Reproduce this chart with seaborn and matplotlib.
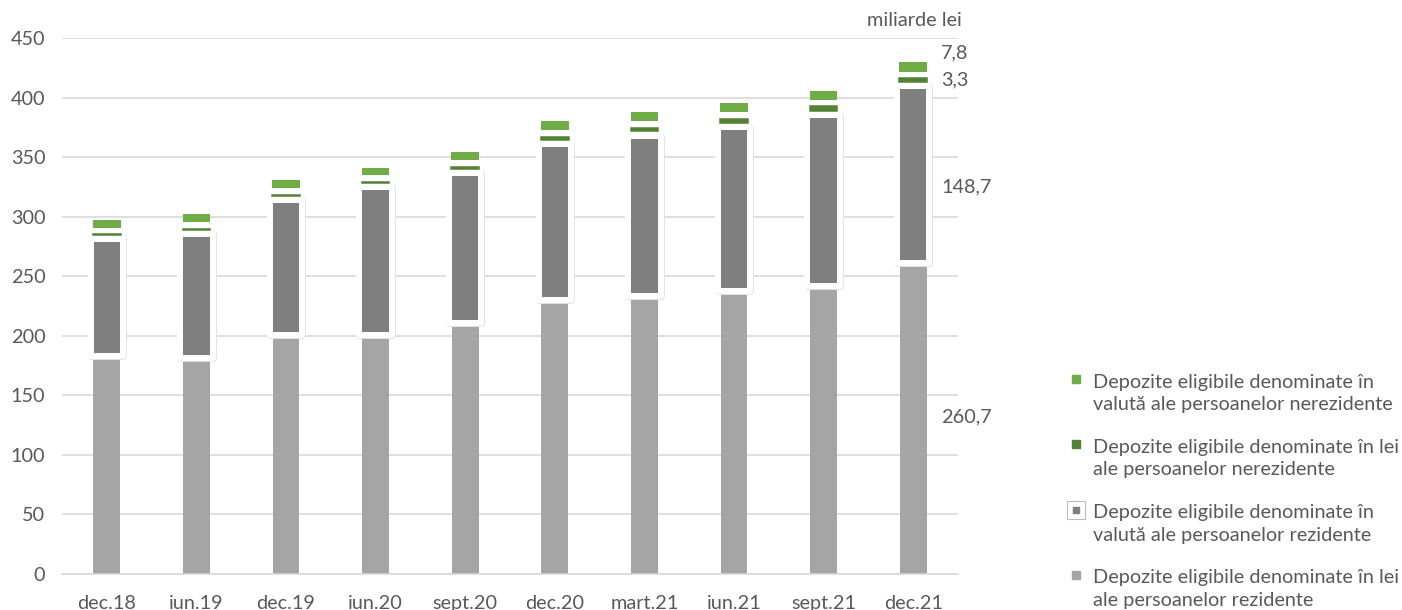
import numpy as np
import pandas as pd
import seaborn as sns
import matplotlib
matplotlib.use("Agg")
import matplotlib.pyplot as plt
from matplotlib import patheffects as pe
from matplotlib.lines import Line2D
from matplotlib.legend_handler import HandlerTuple, HandlerLine2D

# ---------------- data (miliarde lei) ----------------
categories = ["dec.18", "iun.19", "dec.19", "iun.20", "sept.20",
              "dec.20", "mart.21", "iun.21", "sept.21", "dec.21"]
lei_rezidente = [183, 181, 201, 201, 211, 230, 233, 238, 242, 260.7]
valuta_rezidente = [98.1, 104.5, 112.8, 123.5, 125.8, 130.8, 135.1, 137.1, 143.5, 148.7]
lei_nerezidente = [0.8, 1.0, 1.2, 1.2, 1.5, 2.6, 3.2, 3.4, 3.8, 3.3]
valuta_nerezidente = [6.1, 6.4, 7.0, 6.4, 7.3, 8.1, 7.8, 8.1, 7.3, 7.8]

series_labels = [
    "Depozite eligibile denominate în\nvalută ale persoanelor nerezidente",
    "Depozite eligibile denominate în lei\nale persoanelor nerezidente",
    "Depozite eligibile denominate în\nvalută ale persoanelor rezidente",
    "Depozite eligibile denominate în lei\nale persoanelor rezidente",
]
value_labels = ["7,8", "3,3", "148,7", "260,7"]
unit_label = "miliarde lei"

# ---------------- style ----------------
C_LGRAY = "#a5a5a5"
C_DGRAY = "#7f7f7f"
C_DGREEN = "#548235"
C_LGREEN = "#70ad47"
C_TEXT = "#595959"
C_GRID = "#d9d9d9"
GAP1 = 3.5   # visual separation between stacked segments (data units)
GAP2 = 5.5
FS = 14.3

sns.set_theme(style="white")
plt.rcParams["font.family"] = ["Lato", "DejaVu Sans"]
plt.rcParams["font.size"] = FS

df = pd.DataFrame({
    "cat": categories,
    "lei_rez": lei_rezidente,
    "val_rez": valuta_rezidente,
    "lei_nerez": lei_nerezidente,
    "val_nerez": valuta_nerezidente,
})
rez_top = df["lei_rez"].to_numpy() + df["val_rez"].to_numpy()
bottom_lei_nerez = rez_top + GAP1
bottom_val_nerez = bottom_lei_nerez + df["lei_nerez"].to_numpy() + GAP2

fig = plt.figure(figsize=(14.02, 6.10), dpi=100)
ax = fig.add_axes([62 / 1402, 36 / 610, 896 / 1402, 536 / 610])

sns.barplot(data=df, x="cat", y="lei_rez", color=C_LGRAY, saturation=1,
            width=0.30, linewidth=0, errorbar=None, ax=ax, zorder=2)
sns.barplot(data=df, x="cat", y="val_rez", bottom=df["lei_rez"].to_numpy(),
            color=C_DGRAY, saturation=1, width=0.36, linewidth=0,
            errorbar=None, ax=ax, zorder=3)
for p in ax.containers[-1]:
    p.set_path_effects([
        pe.Normal(),
        pe.Stroke(linewidth=5.0, foreground="#e4e4e4", joinstyle="round"),
        pe.Stroke(linewidth=4.3, foreground="white", joinstyle="round"),
    ])
sns.barplot(data=df, x="cat", y="lei_nerez", bottom=bottom_lei_nerez,
            color=C_DGREEN, saturation=1, width=0.31, linewidth=1.1,
            edgecolor=C_DGREEN, errorbar=None, ax=ax, zorder=3)
sns.barplot(data=df, x="cat", y="val_nerez", bottom=bottom_val_nerez,
            color=C_LGREEN, saturation=1, width=0.31, linewidth=0,
            errorbar=None, ax=ax, zorder=3)

# axes styling
ax.set_xlim(-0.5, len(categories) - 0.5)
ax.set_ylim(0, 450)
ax.set_yticks(np.arange(0, 451, 50))
ax.set_xlabel("")
ax.set_ylabel("")
ax.set_axisbelow(True)
ax.yaxis.grid(True, color=C_GRID, linewidth=1.2)
ax.xaxis.grid(False)
for s in ["left", "right", "top"]:
    ax.spines[s].set_visible(False)
ax.spines["bottom"].set_color(C_GRID)
ax.spines["bottom"].set_linewidth(1.2)
ax.tick_params(axis="y", length=0, pad=12, labelsize=FS, labelcolor=C_TEXT)
ax.tick_params(axis="x", length=0, pad=15, labelsize=FS, labelcolor=C_TEXT)

# data labels for last bar
last = len(categories) - 1
centers = [
    bottom_val_nerez[last] + valuta_nerezidente[last] / 2,
    bottom_lei_nerez[last] + lei_nerezidente[last] / 2,
    lei_rezidente[last] + valuta_rezidente[last] / 2,
    lei_rezidente[last] / 2,
]
dy = [10.5, 0, -8.5, 1]
for txt, yc, d in zip(value_labels, centers, dy):
    ax.annotate(txt, xy=(last, yc), xytext=(20, d), textcoords="offset points",
                ha="left", va="center", fontsize=FS, color=C_TEXT)

ax.text(1.004, 1 + 18 / 536, unit_label, transform=ax.transAxes,
        ha="right", va="center", fontsize=FS, color=C_TEXT)


# legend: markers aligned with the first line of each two-line label
class FirstLineHandler(HandlerLine2D):
    def create_artists(self, legend, orig_handle, xdescent, ydescent,
                       width, height, fontsize, trans):
        return super().create_artists(legend, orig_handle, xdescent,
                                      ydescent - 1.45 * fontsize, width,
                                      height, fontsize, trans)


h_lgreen = Line2D([], [], ls="", marker="s", ms=6, mfc=C_LGREEN, mec=C_LGREEN)
h_dgreen = Line2D([], [], ls="", marker="s", ms=6, mfc=C_DGREEN, mec=C_DGREEN)
h_frame = Line2D([], [], ls="", marker="s", ms=13.5, mfc="white", mec="#bcbcbc", mew=0.8)
h_dgray = Line2D([], [], ls="", marker="s", ms=5, mfc=C_DGRAY, mec=C_DGRAY)
h_lgray = Line2D([], [], ls="", marker="s", ms=6, mfc=C_LGRAY, mec=C_LGRAY)
handles = [h_lgreen, h_dgreen, (h_frame, h_dgray), h_lgray]
leg = fig.legend(handles, series_labels, loc="upper left",
                 bbox_to_anchor=(1058 / 1402, 1 - 366 / 610), frameon=False,
                 fontsize=FS, labelcolor=C_TEXT, labelspacing=1.3,
                 handlelength=1.0, handletextpad=0.35, borderaxespad=0,
                 handler_map={Line2D: FirstLineHandler(),
                              tuple: HandlerTuple(ndivide=1, pad=0)})
for t in leg.get_texts():
    t.set_linespacing(1.38)

fig.savefig("out.png", dpi=100)
